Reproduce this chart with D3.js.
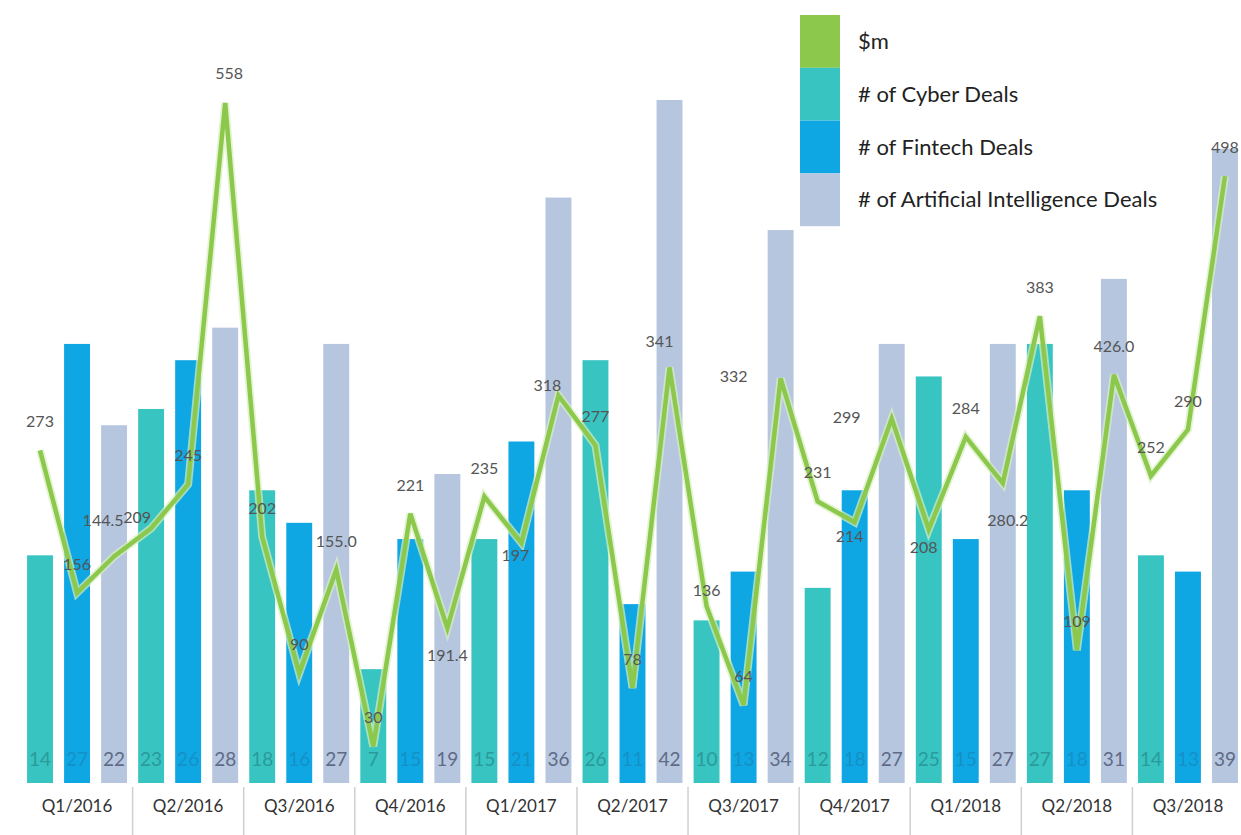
<!DOCTYPE html>
<html>
<head>
<meta charset="utf-8">
<script src="https://cdn.jsdelivr.net/npm/d3@7"></script>
<style>
  html, body { margin: 0; padding: 0; background: #fff; }
  svg text { font-family: Lato, "Open Sans", sans-serif; }
</style>
</head>
<body>
<div id="chart"></div>
<script>
// ---------------------------------------------------------------
// data
const quarters = ["Q1/2016", "Q2/2016", "Q3/2016", "Q4/2016", "Q1/2017", "Q2/2017",
                  "Q3/2017", "Q4/2017", "Q1/2018", "Q2/2018", "Q3/2018"];

const cyberDeals   = [14, 23, 18,  7, 15, 26, 10, 12, 25, 27, 14];
const fintechDeals = [27, 26, 16, 15, 21, 11, 13, 18, 15, 18, 13];
const aiDeals      = [22, 28, 27, 19, 36, 42, 34, 27, 27, 31, 39];

// $m line, one point per bar (height as drawn)
const dealValueM = [273, 156, 186, 209, 245, 558, 202,  90, 175,  30, 221,
                    127, 235, 197, 318, 277,  78, 341, 145,  64, 332, 231,
                    214, 299, 208, 284, 246, 383, 109, 335, 252, 290, 498];

// $m labels as printed on the chart
const dealLabels = ["273", "156", "144.5", "209", "245", "558", "202", "90", "155.0", "30", "221",
                    "191.4", "235", "197", "318", "277", "78", "341", "136", "64", "332", "231",
                    "214", "299", "208", "284", "280.2", "383", "109", "426.0", "252", "290", "498"];

const seriesKeys  = ["cyber", "fintech", "ai"];
const legendNames = ["$m", "# of Cyber Deals", "# of Fintech Deals", "# of Artificial Intelligence Deals"];

// ---------------------------------------------------------------
const W = 1241, H = 835;
const colors = { line: "#8cc84b", cyber: "#38c4c1", fintech: "#0ea7e3", ai: "#b6c6df" };
const labelColors = { cyber: "#2b9a9a", fintech: "#1590c6", ai: "#5f6a86" };

const svg = d3.select("#chart").append("svg")
  .attr("width", W)
  .attr("height", H);

// one row per quarter
const table = quarters.map(function(q, i) {
  return { quarter: q, cyber: cyberDeals[i], fintech: fintechDeals[i], ai: aiDeals[i] };
});

// scales
const x0 = d3.scaleBand().domain(quarters).range([21.5, 1243.5]).padding(0);
const x1 = d3.scaleBand().domain(seriesKeys).range([0, x0.bandwidth()])
  .paddingInner(0.3).paddingOuter(0.15);
const yDeals = d3.scaleLinear().domain([0, 42]).range([783, 100]);
const yValue = d3.scaleLinear().domain([0, 558]).range([783, 103]);

// bar centre for point n (quarter n/3, series n%3)
function barCenter(n) {
  return x0(quarters[Math.floor(n / 3)]) + x1(seriesKeys[n % 3]) + x1.bandwidth() / 2;
}

// ---------------------------------------------------------------
// bars
const groups = svg.append("g").selectAll("g")
  .data(table)
  .enter().append("g")
    .attr("transform", function(d) { return "translate(" + x0(d.quarter) + ",0)"; });

groups.selectAll("rect")
  .data(function(d) { return seriesKeys.map(function(k) { return { key: k, value: d[k] }; }); })
  .enter().append("rect")
    .attr("x", function(d) { return x1(d.key); })
    .attr("y", function(d) { return yDeals(d.value); })
    .attr("width", x1.bandwidth())
    .attr("height", function(d) { return yDeals(0) - yDeals(d.value); })
    .style("fill", function(d) { return colors[d.key]; });

// counts written at the foot of the bars
groups.selectAll("text")
  .data(function(d) { return seriesKeys.map(function(k) { return { key: k, value: d[k] }; }); })
  .enter().append("text")
    .attr("x", function(d) { return x1(d.key) + x1.bandwidth() / 2; })
    .attr("y", 766)
    .attr("text-anchor", "middle")
    .style("font-size", "19px")
    .style("fill", function(d) { return labelColors[d.key]; })
    .text(function(d) { return d.value; });

// ---------------------------------------------------------------
// quarter axis with separators
const xAxis = svg.append("g");
xAxis.selectAll("text")
  .data(quarters)
  .enter().append("text")
    .attr("x", function(d) { return x0(d) + x0.bandwidth() / 2; })
    .attr("y", 812)
    .attr("text-anchor", "middle")
    .style("font-size", "17px")
    .style("fill", "#333")
    .text(function(d) { return d; });

xAxis.selectAll("line")
  .data(quarters.slice(1))
  .enter().append("line")
    .attr("x1", function(d) { return x0(d); })
    .attr("x2", function(d) { return x0(d); })
    .attr("y1", 787)
    .attr("y2", 835)
    .style("stroke", "#cfcfcf")
    .style("stroke-width", 1.5);

// ---------------------------------------------------------------
// the $m line
const line = d3.line()
  .x(function(d, i) { return barCenter(i); })
  .y(function(d) { return yValue(d); });

svg.append("path")
  .datum(dealValueM)
  .attr("d", line)
  .style("fill", "none")
  .style("stroke", "#d8efc0")
  .style("stroke-width", 8)
  .style("stroke-linejoin", "miter")
  .style("opacity", 0.7);

svg.append("path")
  .datum(dealValueM)
  .attr("d", line)
  .style("fill", "none")
  .style("stroke", colors.line)
  .style("stroke-width", 4.5)
  .style("stroke-linejoin", "miter");

// $m labels on top, nudged where the chart places them off the point
const nudge = {
  2: [-11, -36], 3: [-14, -11], 5: [4, -30], 11: [0, 27], 13: [-6, 12], 14: [-11, -10],
  17: [-10, -26], 18: [0, -16], 20: [-47, -2], 22: [-5, 14], 23: [-45, -2],
  24: [-5, 17], 26: [5, 37]
};

svg.append("g").selectAll("text")
  .data(dealLabels)
  .enter().append("text")
    .attr("x", function(d, i) { return barCenter(i) + (nudge[i] ? nudge[i][0] : 0); })
    .attr("y", function(d, i) { return yValue(dealValueM[i]) + (nudge[i] ? nudge[i][1] : -29) + 6; })
    .attr("text-anchor", "middle")
    .style("font-size", "16px")
    .style("fill", "#555")
    .text(function(d) { return d; });

// ---------------------------------------------------------------
// legend: stacked colour blocks with names
const legendColors = [colors.line, colors.cyber, colors.fintech, colors.ai];
const legend = svg.append("g").attr("transform", "translate(800,15)");

legend.selectAll("rect")
  .data(legendColors)
  .enter().append("rect")
    .attr("x", 0)
    .attr("y", function(d, i) { return i * 52.8; })
    .attr("width", 40)
    .attr("height", 52.8)
    .style("fill", function(d) { return d; });

legend.selectAll("text")
  .data(legendNames)
  .enter().append("text")
    .attr("x", 58)
    .attr("y", function(d, i) { return i * 52.8 + 34; })
    .style("font-size", "22px")
    .style("fill", "#222")
    .text(function(d) { return d; });
</script>
</body>
</html>
